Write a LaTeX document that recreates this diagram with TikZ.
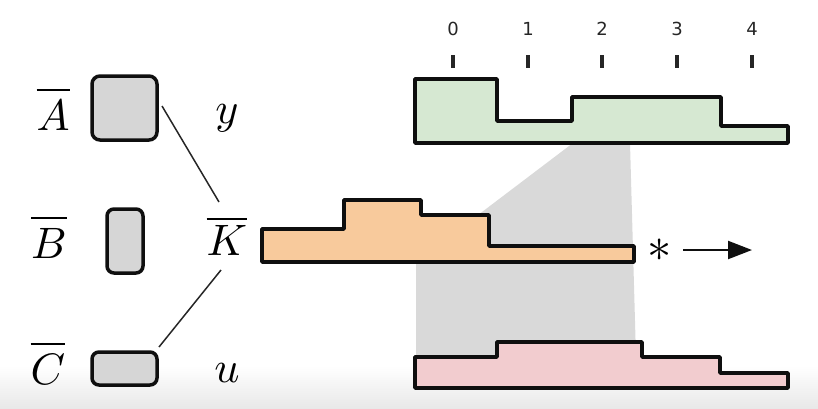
\documentclass[tikz,border=0pt]{standalone}
\usepackage{fontspec}
\newfontfamily\ticksans{DejaVu Sans}
\usetikzlibrary{arrows.meta}
\definecolor{hgreen}{RGB}{214,232,210}
\definecolor{horange}{RGB}{248,202,156}
\definecolor{hpink}{RGB}{242,204,207}
\definecolor{boxgray}{RGB}{214,214,214}
\definecolor{shadegray}{RGB}{217,217,217}
\definecolor{inkblack}{RGB}{15,15,15}
\newcommand{\barlet}[1]{\overline{\rule{0pt}{7.7pt}#1}}
\tikzset{
  hist/.style={draw=inkblack, line width=3.5pt, line join=round},
  gbox/.style={draw=inkblack, fill=boxgray, line width=3.5pt, rounded corners=8pt, inner sep=0pt},
  mlab/.style={inner sep=0pt, anchor=base, scale=4.4},
  ticklab/.style={inner sep=0pt, font=\ticksans\fontsize{18}{20}\selectfont, text=black!85},
  tick/.style={line width=3.5pt, draw=black!85},
  conn/.style={line width=1.5pt, draw=black!85}
}
\begin{document}
\begin{tikzpicture}[x=1pt,y=-1pt]
\useasboundingbox (0,0) rectangle (818,408);
% faint bottom band
\shade[top color=white, bottom color=black!9, draw=none] (0,366) rectangle (818,408);

% grey projection region
\fill[shadegray] (573,143) -- (630,143) -- (636,357) -- (416,357) -- (416,262) -- cycle;

% histograms
\draw[hist, fill=hgreen] (415,79) -- (497,79) -- (497,121) -- (572,121) -- (572,97) -- (721,97) -- (721,126) -- (788,126) -- (788,143) -- (415,143) -- cycle;
\draw[hist, fill=horange] (262,229) -- (344,229) -- (344,200) -- (421,200) -- (421,215) -- (489,215) -- (489,246) -- (634,246) -- (634,262) -- (262,262) -- cycle;
\draw[hist, fill=hpink] (415,357) -- (497,357) -- (497,342) -- (642,342) -- (642,357) -- (720,357) -- (720,373) -- (788,373) -- (788,388) -- (415,388) -- cycle;

% axis ticks and labels
\foreach \i/\x in {0/453,1/528,2/602,3/677,4/752}{
  \draw[tick] (\x,55) -- (\x,68);
  \node[ticklab] (t\i) at (\x,28.5) {\i};
}

% boxes
\node[gbox, minimum width=65pt, minimum height=64pt] (Abox) at (124.5,108) {};
\node[gbox, minimum width=36pt, minimum height=64pt, rounded corners=7pt] (Bbox) at (125,241) {};
\node[gbox, minimum width=65pt, minimum height=33pt, rounded corners=7pt] (Cbox) at (124.5,368.5) {};

% labels
\node[mlab] (Alab) at (53,130) {$\barlet{A}$};
\node[mlab] (Blab) at (49,258) {$\barlet{B}$};
\node[mlab] (Clab) at (48,384) {$\barlet{C}$};
\node[mlab] (ylab) at (227,123) {$y$};
\node[mlab] (Klab) at (227,255) {$\overline{K}$};
\node[mlab] (ulab) at (227,382) {$u$};

% connectors
\coordinate (a1) at (162,106);
\coordinate (k1) at (219,202);
\coordinate (k2) at (221,270);
\coordinate (c1) at (159,347);
\draw[conn] (a1) -- (k1);
\draw[conn] (k2) -- (c1);

% convolution star and arrow
\node[mlab, anchor=center, scale=1.1] (star) at (660,250) {$\ast$};
\coordinate (arrend) at (752,250);
\draw[line width=2.2pt, draw=inkblack, -{Triangle[length=24pt,width=18pt]}] (683,250) -- (arrend);
\end{tikzpicture}
\end{document}
